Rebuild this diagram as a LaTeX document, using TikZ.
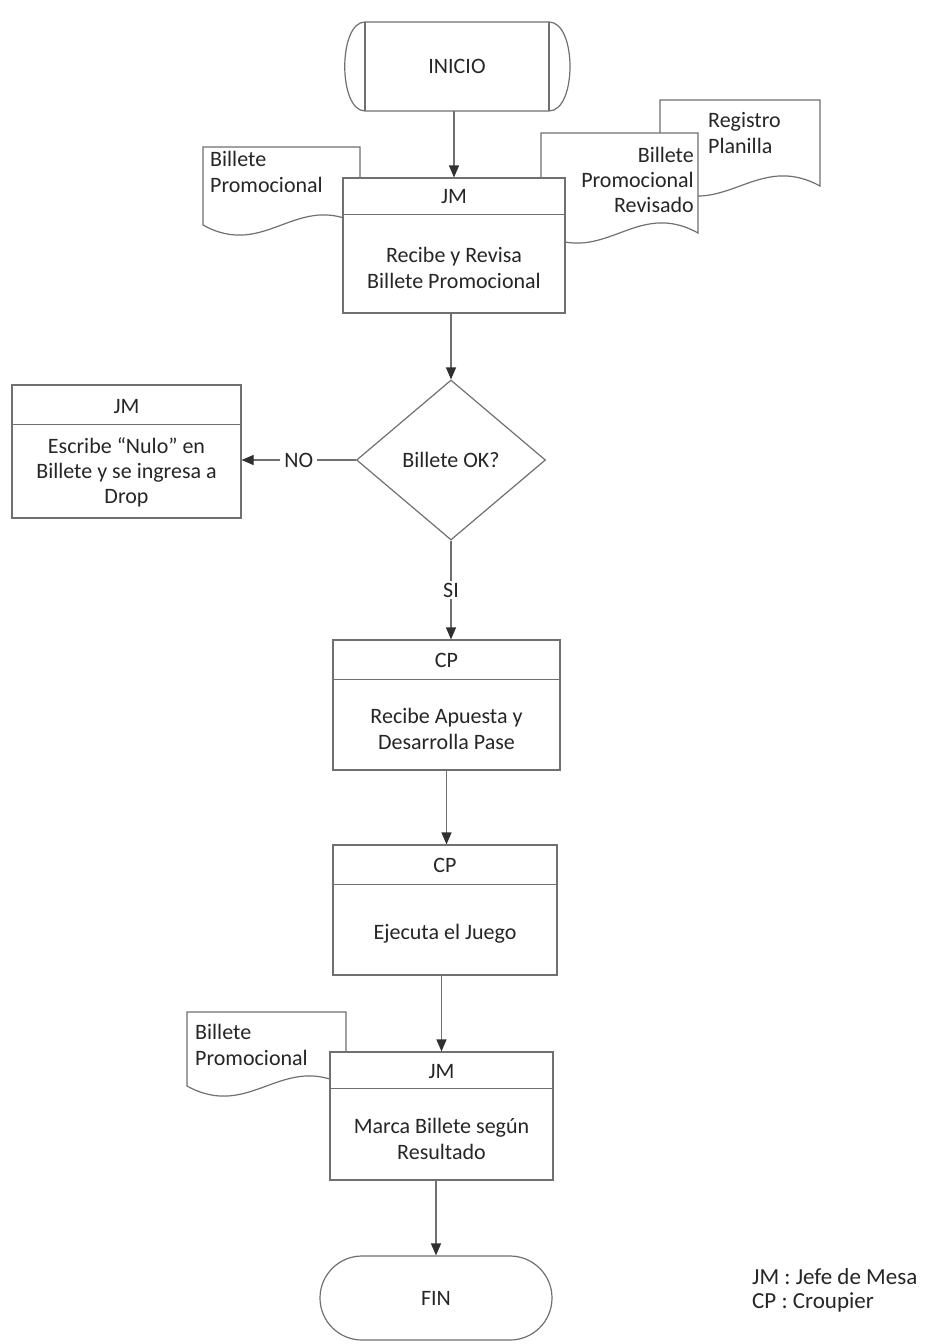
\documentclass[tikz,border=0pt]{standalone}
\usepackage{fontspec}
\setmainfont{Carlito}
\usetikzlibrary{shapes.geometric,calc,arrows.meta}
\definecolor{lc}{HTML}{707070}
\definecolor{tc}{HTML}{262626}
\definecolor{ac}{HTML}{303030}
\newcommand\mydoc[4]{\draw[line, fill=white] (#1,#3) -- (#2,#3) -- (#2,#4) .. controls ({#1+0.6*(#2-#1)},{#4-35}) and ({#1+0.4*(#2-#1)},{#4+35}) .. (#1,#4) -- cycle;}
\newcommand\hdr[2]{\draw[line] ($(#1.north west)+(0,#2)$) -- ($(#1.north east)+(0,#2)$);}
\begin{document}
\begin{tikzpicture}[x=1pt,y=-1pt,
  line/.style={draw=lc, line width=1.2pt},
  box/.style={line, fill=white, rectangle, inner sep=0pt},
  txt/.style={text=tc, font=\fontsize{22}{26.5}\selectfont, align=center, inner sep=0pt},
  lab/.style={txt, fill=white, inner xsep=4pt, inner ysep=2pt},
  arr/.style={draw=lc, line width=1.2pt, -{Triangle[length=12pt,width=10pt,color=ac]}}]
\useasboundingbox (0,0) rectangle (944,1344);
\fill[white] (0,0) rectangle (944,1344);

% INICIO terminator
\draw[line, fill=white] (365,22) -- (549,22) .. controls (577,22) and (577,111) .. (549,111) -- (365,111) .. controls (338,111) and (338,22) .. (365,22) -- cycle;
\draw[line] (365,22) -- (365,111) (549,22) -- (549,111);
\node[txt, minimum width=226pt, minimum height=89pt] (ini) at (457,66.5) {INICIO};

% documents behind first box
\mydoc{660}{820}{100}{186}
\node[txt, align=left, anchor=north west] (dreg) at (708,112) {Registro\\Planilla};
\mydoc{541}{698}{133}{233}
\node[txt, align=right, anchor=north east, font=\fontsize{22}{25}\selectfont] (drev) at (694,147) {Billete\\Promocional\\Revisado};
\mydoc{203}{360}{147}{225}
\node[txt, align=left, anchor=north west] (dbp1) at (210,151) {Billete\\Promocional};

% box 1
\node[box, minimum width=222pt, minimum height=135pt] (b1) at (454,245.5) {};
\hdr{b1}{37}
\node[txt] (b1h) at (454,197) {JM};
\node[txt] (b1t) at (454,268) {Recibe y Revisa\\Billete Promocional};

% decision
\node[line, fill=white, diamond, minimum width=189pt, minimum height=160pt, inner sep=0pt, text=tc, font=\fontsize{22}{26.5}\selectfont] (dec) at (451,460) {Billete OK?};

% NO box
\node[box, minimum width=229pt, minimum height=133pt] (nb) at (126.5,451.5) {};
\hdr{nb}{40}
\node[txt] (nbh) at (126.5,407) {JM};
\node[txt, font=\fontsize{22}{25}\selectfont] (nbt) at (126.5,472) {Escribe “Nulo” en\\Billete y se ingresa a\\Drop};

% CP box 1
\node[box, minimum width=227pt, minimum height=130pt] (c1) at (446.5,705) {};
\hdr{c1}{40}
\node[txt] (c1h) at (446.5,660) {CP};
\node[txt] (c1t) at (446.5,729) {Recibe Apuesta y\\Desarrolla Pase};

% CP box 2
\node[box, minimum width=224pt, minimum height=130pt] (c2) at (445,910) {};
\hdr{c2}{40}
\node[txt] (c2h) at (445,865) {CP};
\node[txt] (c2t) at (445,934) {Ejecuta el Juego};

% document + JM box 3
\mydoc{187}{346}{1012}{1086}
\node[txt, align=left, anchor=north west] (dbp3) at (195,1024) {Billete\\Promocional};
\node[box, minimum width=223pt, minimum height=128pt] (j3) at (441.5,1116) {};
\hdr{j3}{37}
\node[txt] (j3h) at (441.5,1072) {JM};
\node[txt] (j3t) at (441.5,1139) {Marca Billete según\\Resultado};

% FIN
\node[box, rounded corners=42pt, minimum width=232pt, minimum height=84pt, text=tc, font=\fontsize{22}{26.5}\selectfont] (fin) at (436,1298) {FIN};

% legend
\node[txt, align=left, anchor=north west, font=\fontsize{23}{24.5}\selectfont] (leg) at (752,1268) {JM : Jefe de Mesa\\CP : Croupier};

% connectors
\draw[arr] (ini.south -| b1.north) -- (b1.north);
\draw[arr] (b1.south -| dec.north) -- (dec.north);
\draw[arr] (dec.west) -- node[lab] {NO} (dec.west -| nb.east);
\draw[arr] (dec.south) -- node[lab, pos=0.5] {SI} (dec.south |- c1.north);
\draw[arr] (c1.south) -- (c1.south |- c2.north);
\draw[arr] (j3.north |- c2.south) -- (j3.north);
\draw[arr] (fin.north |- j3.south) -- (fin.north);
\end{tikzpicture}
\end{document}
